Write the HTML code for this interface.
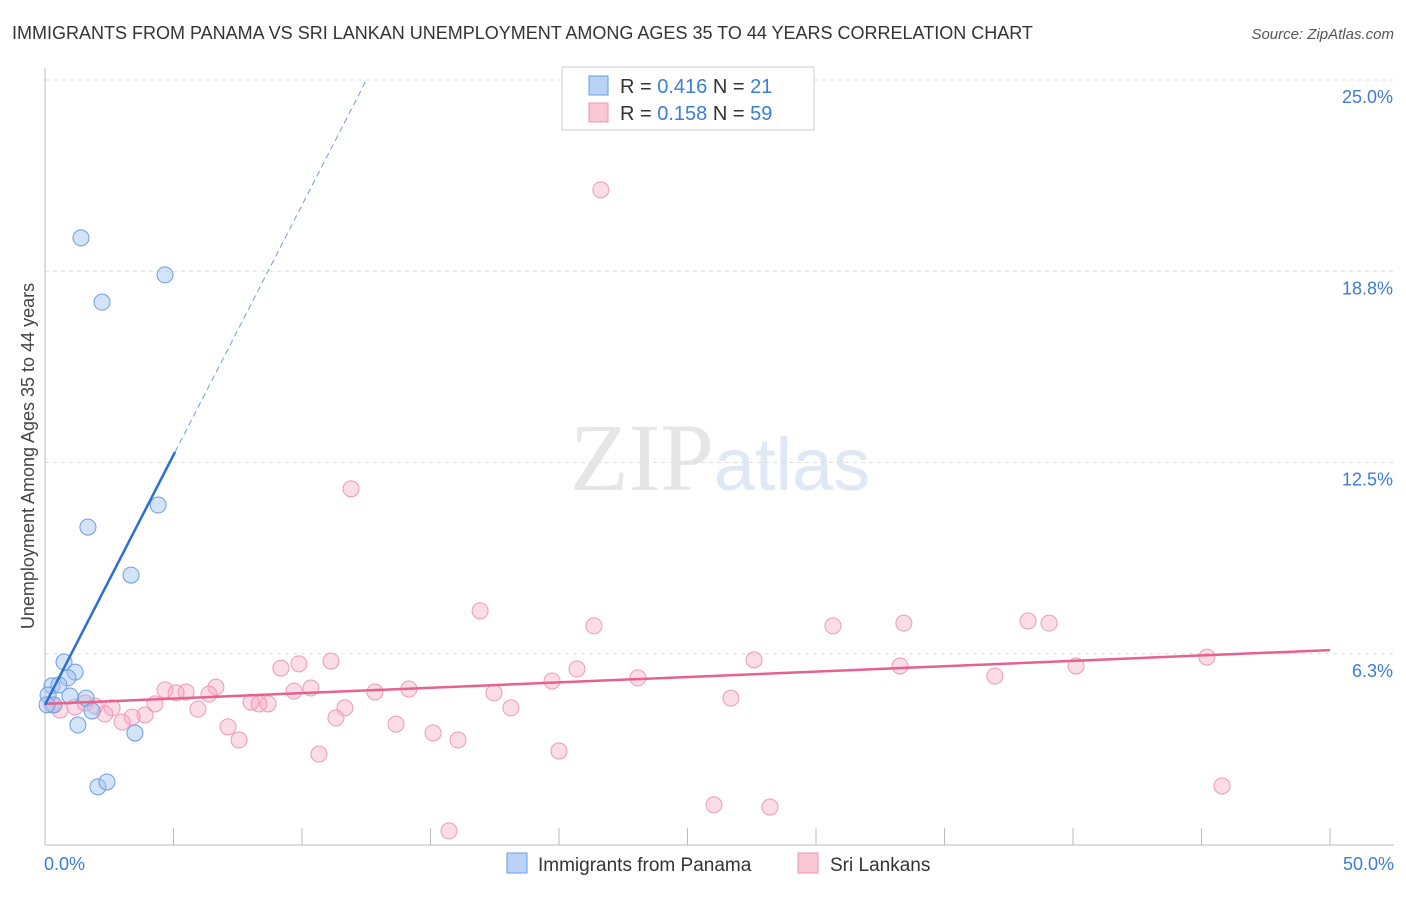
<!DOCTYPE html>
<html><head><meta charset="utf-8"><style>
body{margin:0;background:#fff;font-family:"Liberation Sans",sans-serif;}
</style></head><body>
<svg id="chart" width="1406" height="892" xmlns="http://www.w3.org/2000/svg" font-family="Liberation Sans, sans-serif">
<text x="12" y="39" font-size="18" fill="#333">IMMIGRANTS FROM PANAMA VS SRI LANKAN UNEMPLOYMENT AMONG AGES 35 TO 44 YEARS CORRELATION CHART</text>
<text x="1394" y="39" font-size="15" fill="#555" text-anchor="end" font-style="italic">Source: ZipAtlas.com</text>
<text x="720" y="490" font-size="96" text-anchor="middle" fill="#e6e6e6" font-family="Liberation Serif, serif">ZIP<tspan fill="#dfe8f5" font-family="Liberation Sans, sans-serif" font-size="74">atlas</tspan></text>
<g id="grid"></g><g id="axes"></g><g id="marks"></g>
<text transform="translate(34,456) rotate(-90)" font-size="18" fill="#444" text-anchor="middle">Unemployment Among Ages 35 to 44 years</text>
<g>
<rect x="562" y="67" width="252" height="63" fill="#fff" stroke="#ccc"/>
<rect x="589" y="76" width="19" height="19" fill="#b8d3f5" stroke="#6a9ee0"/>
<rect x="589" y="103" width="19" height="19" fill="#f9c7d6" stroke="#eb94b0"/>
<text x="620" y="93" font-size="20" fill="#333">R = <tspan fill="#3b7dd8">0.416</tspan>   N =  <tspan fill="#3b7dd8">21</tspan></text>
<text x="620" y="120" font-size="20" fill="#333">R = <tspan fill="#3b7dd8">0.158</tspan>   N = <tspan fill="#3b7dd8">59</tspan></text>
</g>
<g>
<rect x="507" y="853" width="20" height="20" fill="#b8d3f5" stroke="#6a9ee0"/>
<text x="538" y="871" font-size="19" fill="#333">Immigrants from Panama</text>
<rect x="798" y="853" width="20" height="20" fill="#f9c7d6" stroke="#eb94b0"/>
<text x="830" y="871" font-size="19" fill="#333">Sri Lankans</text>
</g>
</svg>
<script>
const yTicks=[25,18.75,12.5,6.25];
const yTickLabels=["25.0%","18.8%","12.5%","6.3%"];
const xTickVals=[0,5,10,15,20,25,30,35,40,45,50];
const xLabels=["0.0%","50.0%"];
const panamaX=[1.40,4.67,2.22,4.40,1.67,3.35,0.74,1.17,0.89,0.27,0.54,0.12,0.97,1.60,0.35,1.83,1.28,3.50,2.06,2.41,0.08];
const panamaY=[19.84,18.63,17.74,11.11,10.39,8.82,5.98,5.65,5.46,5.20,5.23,4.90,4.87,4.80,4.58,4.38,3.92,3.66,1.90,2.06,4.58];
const sriX=[21.63,11.91,16.93,21.36,30.66,33.42,38.25,39.07,45.21,27.59,11.13,9.88,9.18,20.70,33.27,40.12,23.07,19.73,36.96,6.65,4.67,14.16,5.49,5.10,6.38,9.69,10.35,12.84,17.47,26.69,8.02,8.68,8.33,4.28,2.61,3.89,5.95,11.67,18.13,0.58,1.95,3.39,3.00,11.32,7.12,13.66,15.10,7.55,16.07,20.00,10.66,26.03,28.21,45.80,15.72,2.33,1.17,0.27,1.56];
const sriY=[21.41,11.64,7.65,7.16,7.16,7.25,7.32,7.25,6.14,6.05,6.01,5.92,5.78,5.75,5.85,5.85,5.46,5.36,5.52,5.16,5.07,5.10,5.00,4.97,4.93,5.03,5.13,5.00,4.97,4.80,4.67,4.61,4.61,4.61,4.48,4.25,4.44,4.48,4.48,4.41,4.54,4.18,4.02,4.15,3.86,3.95,3.66,3.43,3.43,3.07,2.97,1.31,1.24,1.93,0.46,4.28,4.51,4.58,4.64];
const panamaTrend=[4.58,1.633];
const sriTrend=[4.61,0.0352];
const X0=45,X1=1330,Y0=845,Y25=80;
const sx=v=>X0+(v/50)*(X1-X0);
const sy=v=>Y0-(v/25)*(Y0-Y25);
const NS="http://www.w3.org/2000/svg";
function mk(tag,attrs,parent){const e=document.createElementNS(NS,tag);for(const k in attrs)e.setAttribute(k,attrs[k]);document.getElementById(parent).appendChild(e);return e;}
yTicks.forEach((t,i)=>{
 const g=mk('line',{x1:X0,x2:1394,y1:sy(t),y2:sy(t),stroke:'#ddd','stroke-dasharray':'4,4'},'grid');
 
 
 const l=mk('text',{x:1393,y:sy(t)+23,'font-size':18,fill:'#3b7dd8','text-anchor':'end'},'axes');
 l.textContent=yTickLabels[i];
 
 
});
const ya=mk('line',{x1:X0,x2:X0,y1:68,y2:Y0,stroke:'#bbb'},'axes');


const xa=mk('line',{x1:X0,x2:1394,y1:Y0,y2:Y0,stroke:'#bbb'},'axes');


xTickVals.forEach(t=>{
 const tk=mk('line',{x1:sx(t),x2:sx(t),y1:828,y2:Y0,stroke:'#bbb'},'axes');
 
 
});
[[0,'start',44],[50,'end',1394]].forEach((d,i)=>{
 const l=mk('text',{x:d[2],y:870,'font-size':18,fill:'#3b7dd8','text-anchor':d[1]},'axes');
 l.textContent=xLabels[i];
 
 
});
sriX.forEach((x,i)=>{
 const c=mk('circle',{cx:sx(x),cy:sy(sriY[i]),r:8,fill:'rgba(246,168,194,0.4)',stroke:'#ee9ab5','stroke-width':1},'marks');
 
 
});
panamaX.forEach((x,i)=>{
 const c=mk('circle',{cx:sx(x),cy:sy(panamaY[i]),r:8,fill:'rgba(160,196,240,0.45)',stroke:'#6a9ee0','stroke-width':1},'marks');
 
 
});
const pl=mk('line',{x1:sx(0),y1:sy(sriTrend[0]),x2:sx(50),y2:sy(sriTrend[0]+50*sriTrend[1]),stroke:'#e8608c','stroke-width':2.5},'marks');


const xs=5.06, xe=(25-panamaTrend[0])/panamaTrend[1];
const bl=mk('line',{x1:sx(0),y1:sy(panamaTrend[0]),x2:sx(xs),y2:sy(panamaTrend[0]+xs*panamaTrend[1]),stroke:'#2b6fd6','stroke-width':2.5},'marks');


const bd=mk('line',{x1:sx(xs),y1:sy(panamaTrend[0]+xs*panamaTrend[1]),x2:sx(xe),y2:sy(25),stroke:'#6a9ee0','stroke-width':1,'stroke-dasharray':'6,4'},'marks');


</script>
</body></html>
